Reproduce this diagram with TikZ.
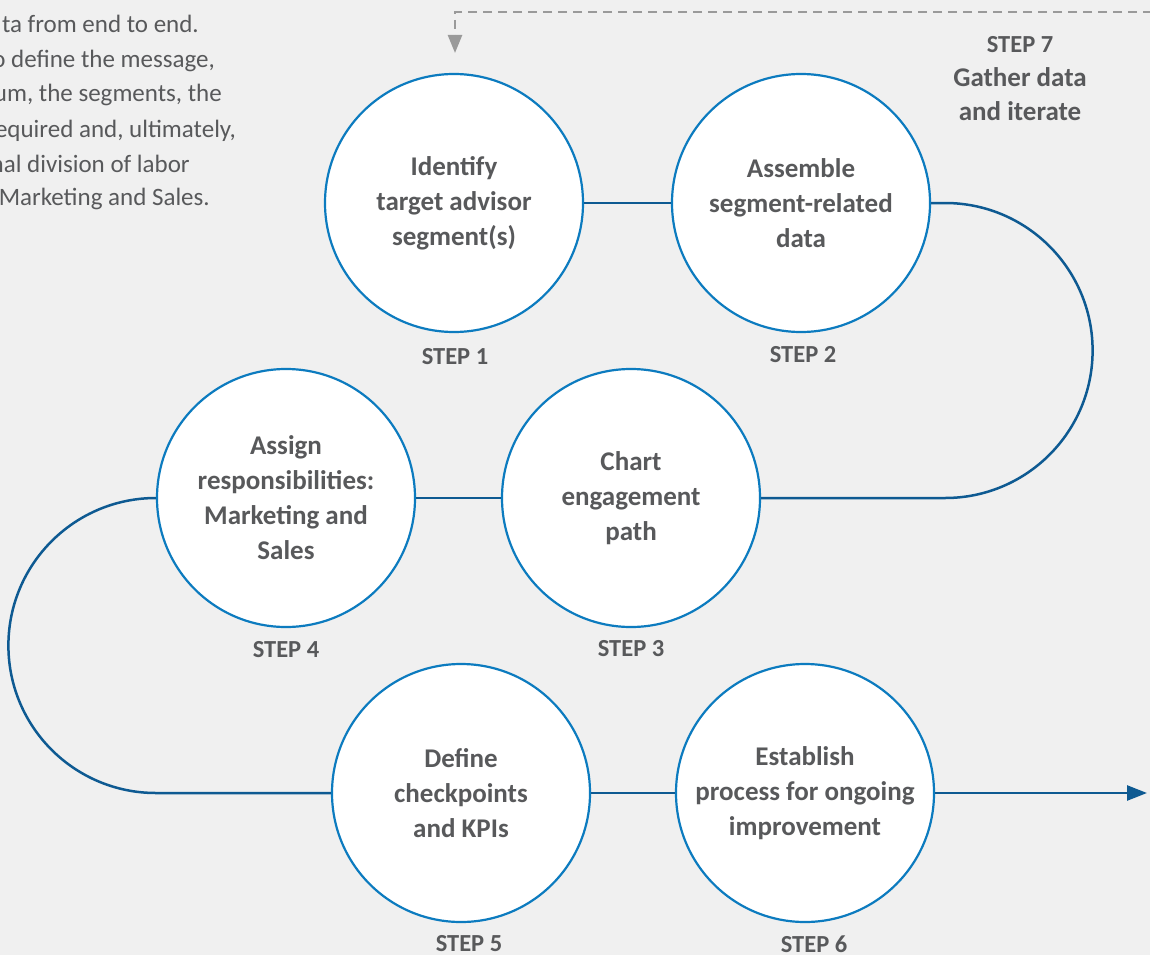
\documentclass[tikz,border=0pt]{standalone}
\usepackage{fontspec}
\setmainfont{Carlito}
\usetikzlibrary{arrows.meta}
\definecolor{fundo}{HTML}{F0F0F0}
\definecolor{azulcirculo}{HTML}{0C7BBF}
\definecolor{azullinha}{HTML}{0E5A92}
\definecolor{cinzatexto}{HTML}{58595B}
\definecolor{cinzaseta}{HTML}{9A9A9A}
\tikzset{
  passo/.style={circle, draw=azulcirculo, line width=2.2pt, fill=white, minimum size=258pt, inner sep=0pt, align=center, text=cinzatexto, font=\bfseries\fontsize{27}{35}\selectfont},
  rotulo/.style={text=cinzatexto, inner sep=0pt, font=\bfseries\fontsize{24.5}{34}\selectfont},
  paragrafo/.style={anchor=base east, inner sep=0pt, text=cinzatexto, font=\fontsize{25}{34}\selectfont},
  trilho/.style={draw=azullinha, line width=2.5pt},
  retorno/.style={draw=cinzaseta, line width=2.5pt, dash pattern=on 9pt off 6pt, -{Triangle[length=18pt,width=14pt]}}
}
\begin{document}
\begin{tikzpicture}[x=1pt,y=-1pt]

% Fundo
\fill[fundo] (0,0) rectangle (1150,955);
\useasboundingbox (0,0) rectangle (1150,955);

% Texto cortado na margem esquerda
\node[paragrafo] (p1) at (199,33) {ta from end to end.};
\node[paragrafo] (p2) at (215,68) {o define the message,};
\node[paragrafo] (p3) at (222,102) {um, the segments, the};
\node[paragrafo] (p4) at (236,137) {equired and, ultimately,};
\node[paragrafo] (p5) at (190,172) {nal division of labor};
\node[paragrafo] (p6) at (210,205) {Marketing and Sales.};

% Passos
\node[passo] (s1) at (454,203) {Identify\\target advisor\\segment(s)};
\node[passo] (s2) at (801,203) {Assemble\\segment-related\\data};
\node[passo] (s3) at (631,498) {Chart\\engagement\\path};
\node[passo] (s4) at (286,498) {Assign\\responsibilities:\\Marketing and\\Sales};
\node[passo] (s5) at (461,793) {Define\\checkpoints\\and KPIs};
\node[passo] (s6) at (805,793) {Establish\\process for ongoing\\improvement};

% Rótulos dos passos
\node[rotulo] (r1) at (455,357) {STEP 1};
\node[rotulo] (r2) at (803,355) {STEP 2};
\node[rotulo] (r3) at (631,649) {STEP 3};
\node[rotulo] (r4) at (286,650) {STEP 4};
\node[rotulo] (r5) at (469,944) {STEP 5};
\node[rotulo] (r6) at (814,944) {STEP 6};
\node[rotulo, align=center] (r7) at (1020,79) {STEP 7\\{\fontsize{27}{34}\selectfont Gather data}\\{\fontsize{27}{34}\selectfont and iterate}};

% Trilho entre os passos
\draw[trilho] (s1) -- (s2);
\draw[trilho] (s2.east) -- ++(14,0) arc[start angle=90, end angle=-90, radius=147.5pt] -- (s3.east);
\draw[trilho] (s3) -- (s4);
\draw[trilho] (s4.west) arc[start angle=90, end angle=270, radius=147.5pt] -- (s5.west);
\draw[trilho] (s5) -- (s6);

% Saída
\coordinate (saida) at (1147,793);
\draw[trilho, -{Triangle[length=20pt,width=15pt]}] (s6) -- (saida);

% Retorno (passo 7)
\coordinate (borda) at (1152,12);
\coordinate (volta) at (455,53);
\draw[retorno] (borda) -| (volta);

\end{tikzpicture}
\end{document}
